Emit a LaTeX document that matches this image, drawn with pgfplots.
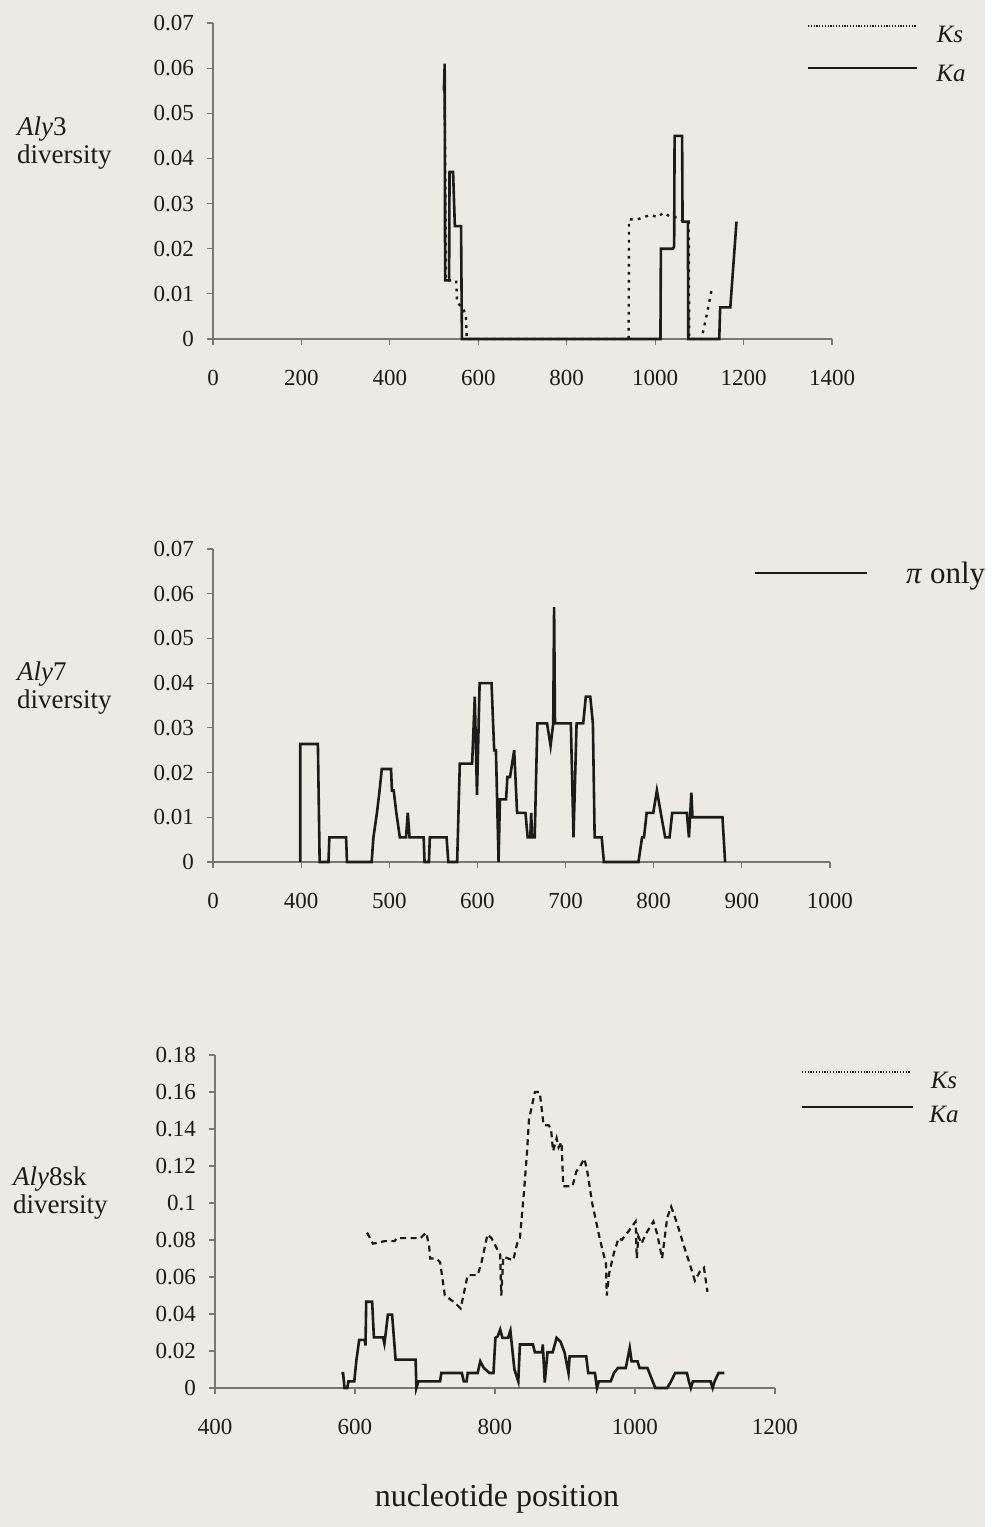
\documentclass[border=0pt]{standalone}
\usepackage{pgfplots}
\pgfplotsset{compat=1.18}
\usepackage{fontspec}
\setmainfont{Liberation Serif}
\definecolor{paper}{RGB}{236,234,227}
\definecolor{ink}{RGB}{28,28,24}
\definecolor{axgray}{RGB}{120,120,115}
\pgfplotsset{
  exc/.style={
    scale only axis, anchor=south west,
    axis lines*=left,
    axis line style={-, draw=axgray, line width=0.7pt},
    tick style={draw=axgray, line width=0.6pt},
    tick align=outside, major tick length=3pt,
    ticklabel style={font=\fontsize{11.5}{12}\selectfont, text=ink},
    scaled ticks=false,
    /pgf/number format/assume math mode=true,
    /pgf/number format/set thousands separator={},
    yticklabel style={xshift=-3pt},
    xticklabel style={yshift=-9pt},
    clip=false,
  },
  ka/.style={ink, line width=1.3pt, no marks, line join=miter},
  ks/.style={ink, line width=1.2pt, no marks, dash pattern=on 1.4pt off 2.6pt},
  ks3/.style={ink, line width=1.1pt, no marks, dash pattern=on 3pt off 2.2pt},
}
\begin{document}
\begin{tikzpicture}
\fill[paper] (0,0) rectangle (492.5pt,763.5pt);

% ---------- Panel 1: Aly3 ----------
\begin{axis}[exc, at={(106.5pt,594pt)}, width=309.5pt, height=158pt,
  xmin=0, xmax=1400, ymin=0, ymax=0.07,
  xtick={0,200,...,1400},
  xticklabels={0,200,400,600,800,1000,1200,1400},
  ytick={0,0.01,0.02,0.03,0.04,0.05,0.06,0.07},
  yticklabels={0,0.01,0.02,0.03,0.04,0.05,0.06,0.07}]
\addplot[ks] coordinates {
(524,0.055)(527,0.013)(550,0.013)(552,0.008)(565,0.007)(572,0.005)(574,0)
(940,0)(941,0.0265)(960,0.0265)(975,0.027)(990,0.0275)(1005,0.027)(1020,0.028)
(1035,0.027)(1050,0.027)(1065,0.026)(1076,0.026)(1077,0)(1105,0)(1118,0.006)(1128,0.011)};
\addplot[ka] coordinates {
(522,0.055)(523,0.057)(524,0.061)(525,0.013)(534,0.013)(535,0.037)(543,0.037)
(545,0.031)(547,0.025)(561,0.025)(563,0)(1012,0)(1013,0.020)(1040,0.020)(1043,0.0205)
(1044,0.045)(1061,0.045)(1062,0.026)(1074,0.026)(1075,0)(1145,0)(1147,0.007)
(1170,0.007)(1184,0.026)};
\end{axis}

% ---------- Panel 2: Aly7 ----------
\begin{axis}[exc, at={(106.5pt,332.5pt)}, width=308.5pt, height=156.5pt,
  xmin=300, xmax=1000, ymin=0, ymax=0.07,
  xtick={300,400,...,1000},
  xticklabels={0,400,500,600,700,800,900,1000},
  ytick={0,0.01,0.02,0.03,0.04,0.05,0.06,0.07},
  yticklabels={0,0.01,0.02,0.03,0.04,0.05,0.06,0.07}]
\addplot[ka] coordinates {
(399,0)(399,0.0264)(419,0.0264)(421,0)(431,0)(432,0.0055)(451,0.0055)(452,0)
(480,0)(482,0.0055)(486,0.011)(489,0.016)(491.5,0.0208)(502,0.0208)(503,0.016)
(505,0.016)(508,0.011)(512,0.0055)(519,0.0055)(521,0.011)(523,0.0055)(539,0.0055)
(540,0)(545,0)(546,0.0055)(565,0.0055)(567,0)(577,0)(580,0.022)(594,0.022)
(597,0.037)(599.5,0.015)(602.5,0.040)(616,0.040)(619,0.025)(621,0.025)(624,0)
(625.5,0.014)(632.5,0.014)(634,0.019)(637,0.019)(641.7,0.025)(645,0.011)(654.5,0.011)
(657,0.0055)(660,0.0055)(661,0.011)(662,0.0055)(665,0.0055)(668,0.031)(679,0.031)
(683,0.026)(686,0.031)(687,0.057)(688,0.031)(706,0.031)(709,0.0055)(712.5,0.031)
(720,0.031)(723,0.037)(728,0.037)(731,0.031)(733,0.0055)(741,0.0055)(743.5,0)
(782.7,0)(786.8,0.0055)(789,0.0055)(792,0.011)(799.5,0.011)(803.6,0.016)(808,0.011)
(813,0.0055)(818,0.0055)(821,0.011)(837.6,0.011)(840,0.0055)(842.7,0.0155)(844,0.010)
(878,0.010)(881,0)};
\end{axis}

% ---------- Panel 3: Aly8sk ----------
\begin{axis}[exc, at={(107.5pt,69.5pt)}, width=280pt, height=166.5pt,
  xmin=400, xmax=1200, ymin=0, ymax=0.18,
  xtick={400,600,...,1200},
  xticklabels={400,600,800,1000,1200},
  ytick={0,0.02,0.04,0.06,0.08,0.1,0.12,0.14,0.16,0.18},
  yticklabels={0,0.02,0.04,0.06,0.08,0.1,0.12,0.14,0.16,0.18}]
\addplot[ks3] coordinates {
(617.2,0.084)(625.7,0.078)(642.6,0.0794)(656.7,0.0794)(659.5,0.081)(673.6,0.081)
(687.7,0.081)(693.4,0.081)(701.8,0.084)(705.8,0.077)(707.5,0.070)(716,0.070)
(721.6,0.068)(728.4,0.050)(735.7,0.048)(743,0.046)(750.9,0.043)(761,0.061)(775.2,0.061)
(780.8,0.068)(789.3,0.083)(794.9,0.081)(807.4,0.072)(809,0.050)(811.9,0.071)(826,0.069)
(831.6,0.078)(835.6,0.081)(841.2,0.105)(845.7,0.127)(848.5,0.145)(852.5,0.152)
(857,0.160)(863.8,0.160)(865.5,0.155)(869.4,0.142)(876.7,0.142)(880,0.140)(883,0.128)
(888,0.135)(890.9,0.130)(895,0.133)(897.6,0.109)(910.6,0.109)(916.2,0.117)(921.9,0.120)
(927.5,0.124)(931.5,0.118)(938.8,0.100)(950.1,0.080)(958.6,0.067)(959.7,0.050)
(963.1,0.062)(969.9,0.073)(976.6,0.081)(981.1,0.080)(991.3,0.085)(1000.9,0.090)
(1002.6,0.070)(1004.8,0.082)(1009.3,0.078)(1015,0.083)(1026.3,0.090)(1031.9,0.083)
(1038.7,0.070)(1046,0.092)(1051.7,0.098)(1060.1,0.089)(1071.4,0.075)(1079.9,0.065)
(1085.5,0.058)(1092.8,0.063)(1098.5,0.065)(1103.5,0.052)};
\addplot[ka] coordinates {
(580.5,0.008)(583,0.008)(585,0)(589,0)(590.7,0.0036)(599,0.0036)(602,0.015)(606,0.026)
(614,0.026)(615,0.023)(616,0.0466)(624.5,0.0466)(627,0.0274)(640,0.0274)(642,0.024)
(644,0.030)(647,0.0397)(653,0.0397)(658,0.0153)(686.6,0.0153)(687.7,0)(690.6,0.0036)
(721.6,0.0036)(723.3,0.0081)(752.6,0.0081)(755.4,0.0036)(759.4,0.0036)(761,0.0081)
(775.2,0.0081)(779,0.0144)(783.7,0.011)(792,0.0081)(797.8,0.0081)(800.6,0.0271)
(804,0.028)(807.4,0.0316)(810.7,0.0271)(818.6,0.0271)(822,0.031)(827.7,0.010)
(833.3,0.0036)(835.6,0.0235)(854.2,0.0235)(857,0.0193)(867.2,0.0193)(868.3,0.0235)
(871.1,0.003)(875,0.0193)(882.4,0.0193)(888,0.0271)(893.7,0.025)(899.3,0.0193)
(905,0.0081)(906.6,0.0171)(930.3,0.0171)(933.2,0.0081)(942.8,0.0081)(945.6,0)
(948.4,0.0036)(965.3,0.0036)(969.9,0.0081)(975.5,0.0108)(986.8,0.0108)(992.5,0.0217)
(995.2,0.0144)(1003.7,0.0144)(1006.5,0.0108)(1017.8,0.0108)(1029,0)(1046,0)
(1051.6,0.0036)(1057.3,0.0081)(1074.2,0.0081)(1077,0.0036)(1079.8,0)(1082.7,0.0036)
(1108,0.0036)(1110.9,0)(1113.7,0.0036)(1119.4,0.0081)(1127.8,0.0081)};
\end{axis}

\begin{scope}[x=0.5pt, y=-0.5pt, yshift=763.5pt]
% ---------- y labels ----------
\node[anchor=west, align=left, text=ink, font=\fontsize{13.5}{14}\selectfont] at (10,143) {\textit{Aly}3\\diversity};
\node[anchor=west, align=left, text=ink, font=\fontsize{13.5}{14}\selectfont] at (10,688) {\textit{Aly}7\\diversity};
\node[anchor=west, align=left, text=ink, font=\fontsize{13.5}{14}\selectfont] at (6,1193) {\textit{Aly}8sk\\diversity};

% ---------- legends ----------
\draw[ink, line width=0.9pt, dash pattern=on 0.6pt off 0.8pt] (808,26) -- (917,26);
\node[text=ink, font=\fontsize{12.5}{13}\selectfont\itshape] at (950,34) {Ks};
\draw[ink, line width=1.1pt] (808,68) -- (917,68);
\node[text=ink, font=\fontsize{12.5}{13}\selectfont\itshape] at (951,73) {Ka};

\draw[ink, line width=1.1pt] (755,573) -- (867,573);
\node[anchor=west, text=ink, font=\fontsize{15.5}{16}\selectfont] at (899,576) {\textit{π} only};

\draw[ink, line width=0.9pt, dash pattern=on 0.6pt off 0.8pt] (802,1072) -- (910,1072);
\node[text=ink, font=\fontsize{12.5}{13}\selectfont\itshape] at (944,1080) {Ks};
\draw[ink, line width=1.1pt] (802,1107) -- (913,1107);
\node[text=ink, font=\fontsize{12.5}{13}\selectfont\itshape] at (944,1114) {Ka};

% ---------- x label ----------
\node[text=ink, font=\fontsize{16}{17}\selectfont] at (497,1499) {nucleotide position};
\end{scope}
\end{tikzpicture}
\end{document}
